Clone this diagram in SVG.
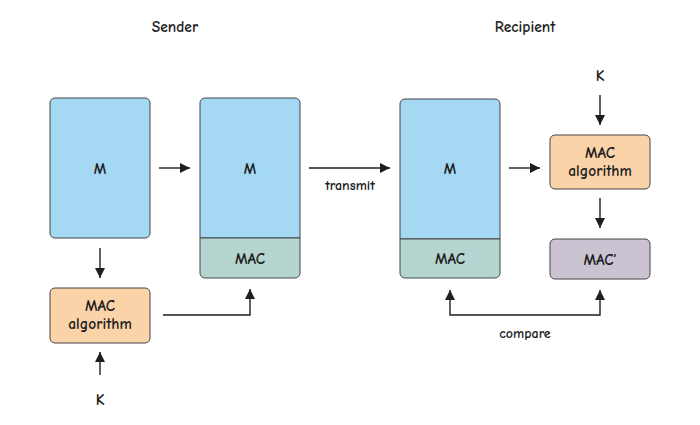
<svg xmlns="http://www.w3.org/2000/svg" width="700" height="425" viewBox="0 0 700 425">
<style>
text{font-family:"Comic Neue","Liberation Sans",sans-serif;font-size:15.5px;font-weight:bold;fill:#1e1e1e;text-anchor:middle}
.t{font-size:15.5px}
.s{font-size:14px}
.box{stroke:#444;stroke-width:1}
.blue{fill:#a5d8f3}
.green{fill:#b5d6d0}
.orange{fill:#fbd3a9}
.purple{fill:#cbc3d2}
.c{fill:none;stroke:#1e1e1e;stroke-width:1.4}
</style>
<defs>
<marker id="ah" viewBox="0 0 10 10" refX="10" refY="5" markerWidth="10" markerHeight="10" markerUnits="userSpaceOnUse" orient="auto-start-reverse">
<path d="M0,0 L10,5 L0,10 z" fill="#1e1e1e"/>
</marker>
</defs>
<rect width="700" height="425" fill="#fff"/>
<text class="t" x="175" y="32">Sender</text>
<text class="t" x="525" y="32">Recipient</text>
<g id="sender-m">
<rect class="box blue" x="50" y="98" width="100" height="140" rx="5"/>
<text x="100" y="174">M</text>
</g>
<g id="sender-alg">
<rect class="box orange" x="50" y="288" width="100" height="55" rx="5"/>
<text x="100" y="311">MAC</text>
<text x="100" y="329">algorithm</text>
</g>
<g id="sender-k">
<text x="100" y="405">K</text>
</g>
<g id="sender-msg">
<path class="box blue" d="M200,238 V103 a5,5 0 0 1 5,-5 H295 a5,5 0 0 1 5,5 V238 z"/>
<path class="box green" d="M200,238 H300 V273 a5,5 0 0 1 -5,5 H205 a5,5 0 0 1 -5,-5 z"/>
<text x="250" y="174">M</text>
<text x="250" y="264">MAC</text>
</g>
<g id="recipient-msg">
<path class="box blue" d="M400,239 V104 a5,5 0 0 1 5,-5 H495 a5,5 0 0 1 5,5 V239 z"/>
<path class="box green" d="M400,239 H500 V273 a5,5 0 0 1 -5,5 H405 a5,5 0 0 1 -5,-5 z"/>
<text x="450" y="174">M</text>
<text x="450" y="264">MAC</text>
</g>
<g id="recipient-k">
<text x="600" y="81">K</text>
</g>
<g id="recipient-alg">
<rect class="box orange" x="550" y="135" width="100" height="54" rx="5"/>
<text x="600" y="158">MAC</text>
<text x="600" y="176">algorithm</text>
</g>
<g id="recipient-mac2">
<rect class="box purple" x="550" y="239" width="100" height="40" rx="5"/>
<text x="600" y="265">MAC’</text>
</g>
<g id="connectors">
<line class="c" x1="159" y1="168" x2="190" y2="168" marker-end="url(#ah)"/>
<line class="c" x1="100" y1="248" x2="100" y2="278" marker-end="url(#ah)"/>
<line class="c" x1="100" y1="375" x2="100" y2="352" marker-end="url(#ah)"/>
<polyline class="c" points="163,315 250,315 250,289" marker-end="url(#ah)"/>
<line class="c" x1="309" y1="168" x2="390" y2="168" marker-end="url(#ah)"/>
<text class="s" x="350" y="190">transmit</text>
<line class="c" x1="509" y1="168" x2="540" y2="168" marker-end="url(#ah)"/>
<line class="c" x1="600" y1="95" x2="600" y2="125" marker-end="url(#ah)"/>
<line class="c" x1="600" y1="198" x2="600" y2="228" marker-end="url(#ah)"/>
<polyline class="c" points="450,290 450,315 600,315 600,290" marker-start="url(#ah)" marker-end="url(#ah)"/>
<text class="s" x="525" y="338">compare</text>
</g>
</svg>
